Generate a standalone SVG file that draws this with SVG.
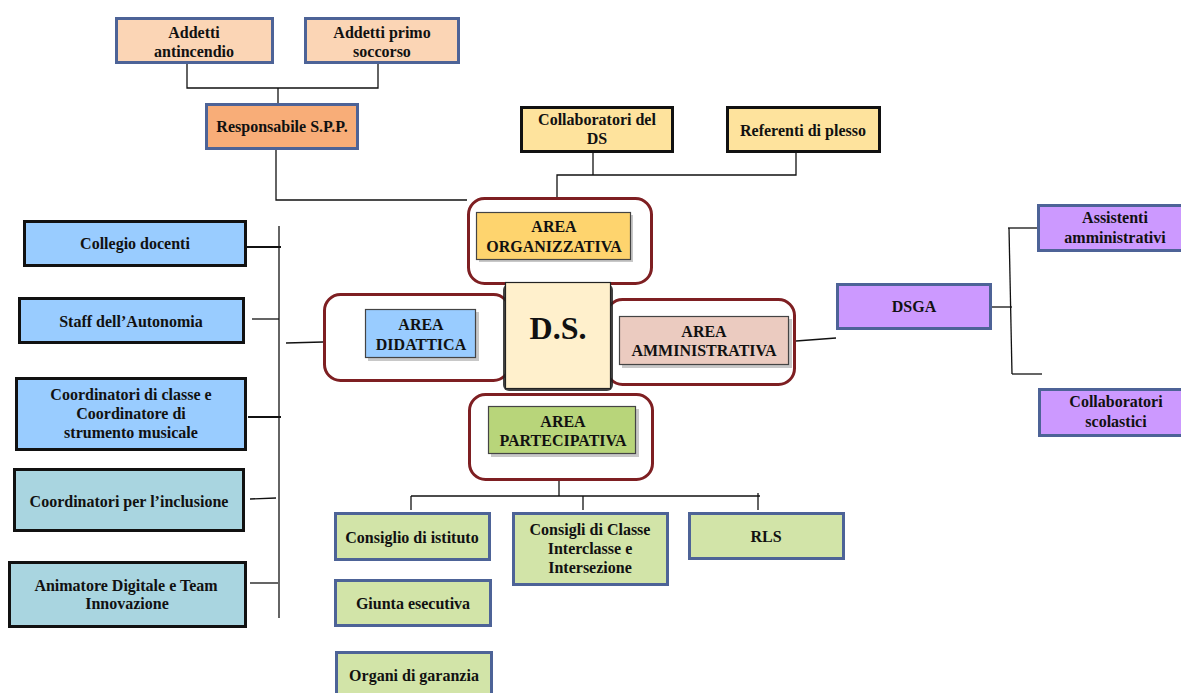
<svg xmlns="http://www.w3.org/2000/svg" width="1181" height="693" viewBox="0 0 1181 693">
<style>
text{font-family:"Liberation Serif","Times New Roman",serif;font-weight:bold;font-size:16px;fill:#111;text-anchor:middle}
.bl{stroke:#4d6397;stroke-width:3}
.bk{stroke:#111;stroke-width:3}
.area{fill:#fff;stroke:#7e1f22;stroke-width:3}
.inner{stroke:#444;stroke-width:1.2}
.sh{fill:#9a9a9a;opacity:0.55}
.con path{fill:none;stroke:#111;stroke-width:1.3}
</style>
<rect width="1181" height="693" fill="#fff"/>
<g class="con">
<path d="M187,64 V88 H378 V64"/>
<path d="M278,88 V103"/>
<path d="M276,150 V200 H467"/>
<path d="M593,153 V175"/>
<path d="M557,197 V175 H796 V153"/>
<path d="M279,226 V618" stroke="#777"/>
<path d="M247,247 H281" style="stroke-width:2"/>
<path d="M252,319 H279" stroke="#555"/>
<path d="M286,343 L323,342" stroke="#555"/>
<path d="M248,417 H281" style="stroke-width:2"/>
<path d="M250,499 L276,498" stroke="#555"/>
<path d="M250,583 H278" stroke="#555"/>
<path d="M796,341 L836,338"/>
<path d="M992,307 H1012"/>
<path d="M1009,228 L1012,374"/>
<path d="M1008,228 H1037"/>
<path d="M1012,374 H1042"/>
<path d="M559,481 V496"/>
<path d="M411,496 H760"/>
<path d="M411,496 V510"/>
<path d="M583,496 V510" stroke="#555"/>
<path d="M758,493 V510"/>
</g>
<g id="addetti-antincendio"><rect class="bl" x="116.5" y="18.5" width="156" height="44" fill="#fbd5b5"/><text x="194" y="38">Addetti</text><text x="194" y="57">antincendio</text></g>
<g id="addetti-primo-soccorso"><rect class="bl" x="305.5" y="18.5" width="153" height="44" fill="#fbd5b5"/><text x="382" y="38">Addetti primo</text><text x="382" y="57">soccorso</text></g>
<g id="responsabile-spp"><rect class="bl" x="206.5" y="104.5" width="151" height="44" fill="#f8ad78"/><text x="282" y="132">Responsabile S.P.P.</text></g>
<g id="collaboratori-ds"><rect class="bk" x="521.5" y="107.5" width="151" height="44" fill="#fee39d"/><text x="597" y="125">Collaboratori del</text><text x="597" y="144">DS</text></g>
<g id="referenti-plesso"><rect class="bk" x="727.5" y="107.5" width="152" height="44" fill="#fee39d"/><text x="803" y="136">Referenti di plesso</text></g>
<g id="collegio-docenti"><rect class="bk" x="24.5" y="221.5" width="221" height="44" fill="#99ccff"/><text x="135" y="249">Collegio docenti</text></g>
<g id="staff-autonomia"><rect class="bk" x="19.5" y="298.5" width="224" height="44" fill="#99ccff"/><text x="131" y="327">Staff dell’Autonomia</text></g>
<g id="coordinatori-classe"><rect class="bk" x="16.5" y="378.5" width="229" height="71" fill="#99ccff"/><text x="131" y="400">Coordinatori di classe e</text><text x="131" y="419">Coordinatore di</text><text x="131" y="438">strumento musicale</text></g>
<g id="coordinatori-inclusione"><rect class="bk" x="14.5" y="469.5" width="229" height="61" fill="#a9d5e0"/><text x="129" y="507">Coordinatori per l’inclusione</text></g>
<g id="animatore-digitale"><rect class="bk" x="9.5" y="562.5" width="236" height="64" fill="#a9d5e0"/><text x="126" y="591">Animatore Digitale e Team</text><text x="127" y="609">Innovazione</text></g>
<g id="area-organizzativa"><rect class="area" x="468.5" y="198.5" width="183" height="85" rx="16"/><rect class="sh" x="479" y="215" width="154" height="47"/><rect class="inner" x="476.5" y="212.5" width="154" height="47" fill="#fed46e"/><text x="554" y="232">AREA</text><text x="554" y="252">ORGANIZZATIVA</text></g>
<g id="area-didattica"><rect class="area" x="324.5" y="294.5" width="185" height="86" rx="16"/><rect class="sh" x="368" y="312" width="111" height="49"/><rect class="inner" x="365.5" y="309.5" width="110" height="48" fill="#99ccff"/><text x="421" y="330">AREA</text><text x="421" y="350">DIDATTICA</text></g>
<g id="area-amministrativa"><rect class="area" x="606.5" y="299.5" width="188" height="85" rx="16"/><rect class="sh" x="622" y="319" width="170" height="49"/><rect class="inner" x="619.5" y="316.5" width="169" height="48" fill="#ebcbc0"/><text x="704" y="337">AREA</text><text x="704" y="356">AMMINISTRATIVA</text></g>
<g id="area-partecipativa"><rect class="area" x="469.5" y="394.5" width="183" height="85" rx="16"/><rect class="sh" x="491" y="409" width="148" height="48"/><rect class="inner" x="488.5" y="406.5" width="147" height="47" fill="#b8d57a"/><text x="563" y="427">AREA</text><text x="563" y="446">PARTECIPATIVA</text></g>
<g id="ds"><rect x="503" y="284" width="110" height="107" fill="#222" opacity="0.85" rx="6"/><rect x="505.5" y="282.5" width="105" height="106" fill="#fff0cc" stroke="#222" stroke-width="1.2"/><text x="558" y="339" style="font-size:32px">D.S.</text></g>
<g id="dsga"><rect class="bl" x="837.5" y="284.5" width="153" height="44" fill="#cc99ff"/><text x="914" y="312">DSGA</text></g>
<g id="assistenti-amministrativi"><rect class="bl" x="1038.5" y="205.5" width="150" height="45" fill="#cc99ff"/><text x="1115" y="223">Assistenti</text><text x="1115" y="243">amministrativi</text></g>
<g id="collaboratori-scolastici"><rect class="bl" x="1039.5" y="389.5" width="150" height="46" fill="#cc99ff"/><text x="1116" y="407">Collaboratori</text><text x="1116" y="427">scolastici</text></g>
<g id="consiglio-istituto"><rect class="bl" x="335.5" y="513.5" width="154" height="46" fill="#d2e4a8"/><text x="412" y="543">Consiglio di istituto</text></g>
<g id="giunta-esecutiva"><rect class="bl" x="335.5" y="580.5" width="155" height="45" fill="#d2e4a8"/><text x="413" y="609">Giunta esecutiva</text></g>
<g id="organi-garanzia"><rect class="bl" x="336.5" y="652.5" width="155" height="50" fill="#d2e4a8"/><text x="414" y="681">Organi di garanzia</text></g>
<g id="consigli-classe"><rect class="bl" x="513.5" y="513.5" width="154" height="71" fill="#d2e4a8"/><text x="590" y="535">Consigli di Classe</text><text x="590" y="554">Interclasse e</text><text x="590" y="573">Intersezione</text></g>
<g id="rls"><rect class="bl" x="689.5" y="513.5" width="154" height="45" fill="#d2e4a8"/><text x="766" y="542">RLS</text></g>
</svg>
